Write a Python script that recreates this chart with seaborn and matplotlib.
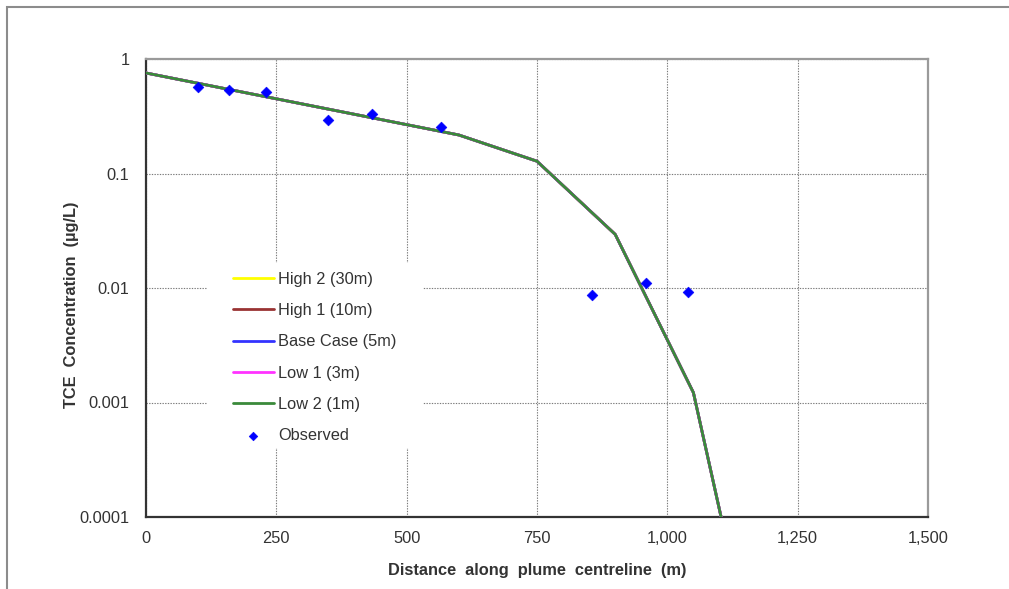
import numpy as np
import pandas as pd
import matplotlib
matplotlib.use("Agg")
import matplotlib.pyplot as plt
import seaborn as sns
from matplotlib.ticker import FixedLocator, FixedFormatter
from matplotlib.patches import Rectangle

# ---------------- data ----------------
distance_model = [0, 600, 750, 900, 1050, 1150]
conc_high2 = [0.755, 0.217, 0.128, 0.0294, 0.00122, 0.000011]
conc_high1 = [0.755, 0.217, 0.128, 0.0294, 0.00122, 0.000011]
conc_base = [0.755, 0.217, 0.128, 0.0294, 0.00122, 0.000011]
conc_low1 = [0.755, 0.217, 0.128, 0.0294, 0.00122, 0.000011]
conc_low2 = [0.755, 0.217, 0.128, 0.0294, 0.00122, 0.000011]

series_names = ["High 2 (30m)", "High 1 (10m)", "Base Case (5m)", "Low 1 (3m)", "Low 2 (1m)"]
series_colors = ["#FFFF00", "#993333", "#3333FF", "#FF33FF", "#3A8A3A"]

obs_distance = [100, 160, 230, 350, 433, 565, 855, 960, 1040]
obs_conc = [0.569, 0.533, 0.512, 0.293, 0.331, 0.255, 0.00875, 0.0111, 0.00923]

x_ticks = [0, 250, 500, 750, 1000, 1250, 1500]
x_tick_labels = ["0", "250", "500", "750", "1,000", "1,250", "1,500"]
y_ticks = [0.0001, 0.001, 0.01, 0.1, 1]
y_tick_labels = ["0.0001", "0.001", "0.01", "0.1", "1"]

# ---------------- style ----------------
sns.set_style("white")
plt.rcParams["font.family"] = ["Liberation Sans", "DejaVu Sans"]
text_color = "#333333"

fig = plt.figure(figsize=(10.09, 5.89), dpi=100)
ax = fig.add_axes([146 / 1009, (589 - 517) / 589, (928 - 146) / 1009, (517 - 59) / 589])

all_series = [conc_high2, conc_high1, conc_base, conc_low1, conc_low2]
for name, color, vals in zip(series_names, series_colors, all_series):
    df = pd.DataFrame({"Distance": distance_model, "Conc": vals})
    sns.lineplot(data=df, x="Distance", y="Conc", ax=ax, color=color,
                 linewidth=2.0, label=name, sort=False, zorder=3)

obs_df = pd.DataFrame({"Distance": obs_distance, "Conc": obs_conc})
sns.scatterplot(data=obs_df, x="Distance", y="Conc", ax=ax, marker="D",
                color="#0000FF", edgecolor="#0000FF", s=30, label="Observed", zorder=4)

ax.set_yscale("log")
ax.set_xlim(0, 1500)
ax.set_ylim(0.0001, 1)

ax.xaxis.set_major_locator(FixedLocator(x_ticks))
ax.xaxis.set_major_formatter(FixedFormatter(x_tick_labels))
ax.yaxis.set_major_locator(FixedLocator(y_ticks))
ax.yaxis.set_major_formatter(FixedFormatter(y_tick_labels))
ax.yaxis.set_minor_locator(FixedLocator([]))
ax.tick_params(axis="both", which="major", direction="out", length=5, width=1,
               color="#333333", labelsize=11.8, labelcolor=text_color)
ax.tick_params(axis="y", pad=7)
ax.tick_params(axis="x", pad=5)
ax.tick_params(which="minor", length=0)

ax.grid(True, which="major", color="#7a7a7a", linestyle=(0, (1.2, 1.2)), linewidth=0.8)
ax.set_axisbelow(True)

for side in ["left", "bottom"]:
    ax.spines[side].set_color("#333333")
    ax.spines[side].set_linewidth(1.6)
for side in ["top", "right"]:
    ax.spines[side].set_color("#9a9a9a")
    ax.spines[side].set_linewidth(1.6)
    ax.spines[side].set_visible(True)

ax.set_xlabel("Distance  along  plume  centreline  (m)", fontsize=11.8,
              fontweight="bold", color=text_color, labelpad=12)
ax.set_ylabel("TCE  Concentration  (\u00b5g/L)", fontsize=11.8,
              fontweight="bold", color=text_color)
ax.yaxis.set_label_coords((79 - 146) / (928 - 146), (517 - 305) / 458)

# white legend background area (covers the grid behind the legend)
ax.add_patch(Rectangle((207 / 1009, (589 - 448) / 589), (423 - 207) / 1009, (448 - 263) / 589,
                       transform=fig.transFigure, facecolor="white", edgecolor="none",
                       zorder=1))

handles, labels = ax.get_legend_handles_labels()
leg = ax.legend(handles, labels, loc="upper left",
                bbox_to_anchor=(217 / 1009, (589 - 255.5) / 589),
                bbox_transform=fig.transFigure,
                fontsize=11.8, frameon=False, borderpad=1.0, borderaxespad=0,
                handlelength=2.45, handletextpad=0.3, labelspacing=0.99,
                markerscale=0.8)
for t in leg.get_texts():
    t.set_color(text_color)
leg.set_zorder(5)

# outer chart border (only top and left are visible in the reference)
fig.patches.append(Rectangle((7 / 1009, -0.05), 1.2, (582 / 589) + 0.05,
                             transform=fig.transFigure, fill=False,
                             edgecolor="#8c8c8c", linewidth=1.5))

fig.savefig("out.png", dpi=100, facecolor="white")
